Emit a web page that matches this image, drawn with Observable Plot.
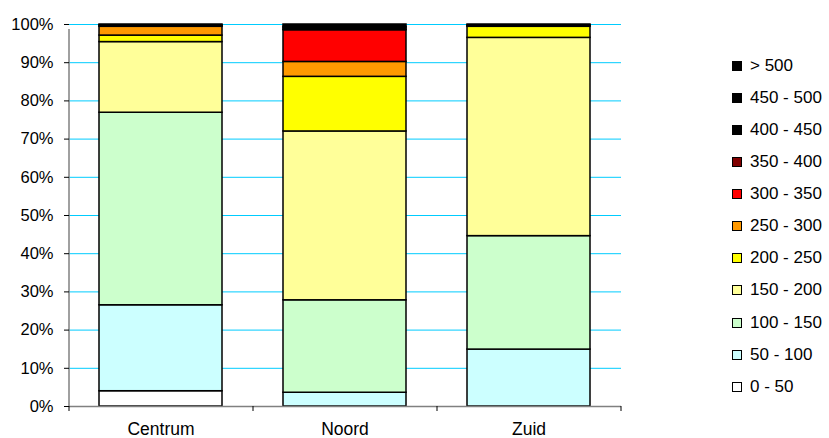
<!DOCTYPE html>
<html><head><meta charset="utf-8">
<script src="https://cdn.jsdelivr.net/npm/d3@7"></script>
<script src="https://cdn.jsdelivr.net/npm/@observablehq/plot@0.6"></script>
<style>
html,body{margin:0;padding:0;background:#fff;}
#wrap{position:relative;width:829px;height:438px;font-family:"Liberation Sans",Arial,sans-serif;}
#legend{position:absolute;left:732px;top:0;}
.item{position:absolute;left:0;height:18px;display:flex;align-items:center;white-space:nowrap;font-size:17px;color:#000;}
.sw{width:8px;height:8px;border:1px solid #000;margin-right:8px;flex:none;}
</style>
</head><body>
<div id="wrap"><div id="legend"></div></div>
<script>
const regions = ["Centrum", "Noord", "Zuid"];
const bands = ["0 - 50", "50 - 100", "100 - 150", "150 - 200", "200 - 250", "250 - 300", "300 - 350", "350 - 400", "400 - 450", "450 - 500", "> 500"];
const colors = ["#FFFFFF", "#CCFFFF", "#CCFFCC", "#FFFF99", "#FFFF00", "#FF9900", "#FF0000", "#800000", "#000000", "#000000", "#000000"];
// percentage share per band (bottom to top)
const centrum = [4.0, 22.5, 50.4, 18.5, 1.7, 2.3, 0, 0, 0.2, 0.2, 0.2];
const noord   = [0, 3.6, 24.2, 44.2, 14.3, 3.9, 8.3, 0.2, 0.4, 0.3, 0.6];
const zuid    = [0, 14.9, 29.7, 51.9, 2.9, 0, 0, 0, 0.2, 0.2, 0.2];
const yTicks = [0, 10, 20, 30, 40, 50, 60, 70, 80, 90, 100];

const series = [centrum, noord, zuid];
const data = [];
regions.forEach((r, i) => bands.forEach((b, j) => {
  if (series[i][j] > 0) data.push({region: r, band: b, value: series[i][j]});
}));

const W = 829, H = 438, ML = 69, MR = 208, MT = 24, MB = 32;
const half = (W - ML - MR) / regions.length / 2;

const chart = Plot.plot({
  width: W, height: H,
  marginLeft: ML, marginRight: MR, marginTop: MT, marginBottom: MB,
  style: {fontFamily: "'Liberation Sans', Arial, sans-serif", background: "#fff", overflow: "visible"},
  x: {domain: regions, paddingInner: 0.33, paddingOuter: 0.165, label: null},
  y: {domain: [0, 100], label: null},
  color: {domain: bands, range: colors},
  marks: [
    Plot.gridY(yTicks, {stroke: "#00CCFF", strokeOpacity: 1, strokeWidth: 1}),
    Plot.barY(data, {x: "region", y: "value", fill: "band", order: bands, stroke: "#000", strokeWidth: 1.5}),
    Plot.ruleY([0], {stroke: "#808080", strokeWidth: 1.5}),
    Plot.ruleX([regions[0]], {x: d => d, dx: -half, y1: 0, y2: 100, insetBottom: -5, stroke: "#808080", strokeWidth: 1.5}),
    Plot.ruleX(regions, {x: d => d, dx: -half, y1: 0, y2: 0, insetBottom: -5, stroke: "#000"}),
    Plot.ruleX([regions[regions.length - 1]], {x: d => d, dx: half, y1: 0, y2: 0, insetBottom: -5, stroke: "#000"}),
    Plot.axisY(yTicks, {tickFormat: d => d + "%", tickSize: 5, tickPadding: 11, fontSize: 16.5, stroke: "#000", fill: "#000"}),
    Plot.axisX({tickSize: 0, tickPadding: 16, fontSize: 17.5, fill: "#000"})
  ]
});
document.getElementById("wrap").prepend(chart);

const legend = document.getElementById("legend");
bands.slice().reverse().forEach((b, i) => {
  const idx = bands.indexOf(b);
  const it = document.createElement("div");
  it.className = "item";
  it.style.top = (66 + i * 32.07 - 9) + "px";
  const sw = document.createElement("div");
  sw.className = "sw";
  sw.style.background = colors[idx];
  it.appendChild(sw);
  it.appendChild(document.createTextNode(b));
  legend.appendChild(it);
});
</script>
</body></html>
